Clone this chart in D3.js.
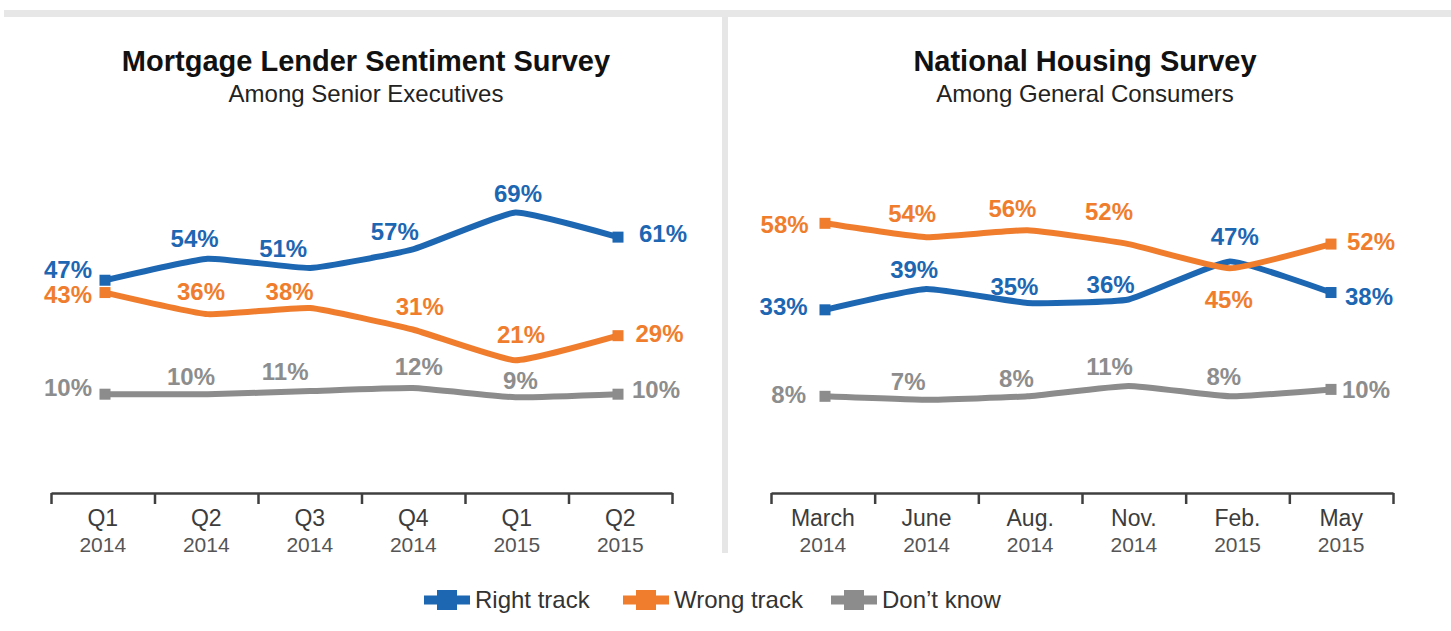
<!DOCTYPE html>
<html>
<head>
<meta charset="utf-8">
<script src="https://cdn.jsdelivr.net/npm/d3@7"></script>
<style>
  body { margin: 0; background: #fff; }
  svg { display: block; font-family: "Liberation Sans", Arial, Helvetica, sans-serif; }
</style>
</head>
<body>
<svg id="chart" width="1451" height="631"></svg>
<script>
// ---- data ----
const seriesNames = ["Right track", "Wrong track", "Don\u2019t know"];

const lenderPeriods = ["Q1", "Q2", "Q3", "Q4", "Q1", "Q2"];
const lenderYears = ["2014", "2014", "2014", "2014", "2015", "2015"];
const lenderRight = [47, 54, 51, 57, 69, 61];
const lenderWrong = [43, 36, 38, 31, 21, 29];
const lenderDontKnow = [10, 10, 11, 12, 9, 10];

const housingPeriods = ["March", "June", "Aug.", "Nov.", "Feb.", "May"];
const housingYears = ["2014", "2014", "2014", "2014", "2015", "2015"];
const housingRight = [33, 39, 35, 36, 47, 38];
const housingWrong = [58, 54, 56, 52, 45, 52];
const housingDontKnow = [8, 7, 8, 11, 8, 10];

// ---- styling ----
const colors = ["#1d66b2", "#ef7d2d", "#8c8c8c"];
const labelColors = ["#1d66b2", "#ef7d2d", "#8d8d8d"];

// label nudges [dx, dy] from each point, per series (right, wrong, don't know)
const lenderNudges = [
  [[-13, -2], [-13, -12], [-27, -11], [-18, -9.5], [2.6, -10.5], [21, 5]],
  [[-13, 10.5], [-6.6, -14], [-20.6, -8], [7, -14.5], [5.6, -17], [17.5, 6]],
  [[-13, 2], [-16.6, -9], [-25, -11], [6, -13], [5, -8], [14, 4]]
];
const housingNudges = [
  [[-17.4, 5], [-12, -11], [-13, -8], [-18, -6], [5, -16], [14, 12.5]],
  [[-16.4, 10], [-14, -15.5], [-15, -13.5], [-19.6, -24], [-1, 40], [16, 6]],
  [[-19, 7], [-18, -10], [-11, -9.6], [-19, -11], [-6, -11], [11, 8.5]]
];

const svg = d3.select("#chart");
const W = 1451, H = 631;

svg.append("rect").attr("width", W).attr("height", H).attr("fill", "#fff");
// frame: top band and centre divider
svg.append("rect").attr("x", 4).attr("y", 10).attr("width", W - 4).attr("height", 7).attr("fill", "#e7e7e7");
svg.append("rect").attr("x", 722).attr("y", 17).attr("width", 6).attr("height", 536).attr("fill", "#e6e6e6");

const panels = [
  {
    title: "Mortgage Lender Sentiment Survey",
    subtitle: "Among Senior Executives",
    cx: 366,
    periods: lenderPeriods, years: lenderYears,
    series: [lenderRight, lenderWrong, lenderDontKnow],
    nudges: lenderNudges,
    axisRange: [51, 672],
    pointRange: [105, 618],
    yRange: [425, 117]
  },
  {
    title: "National Housing Survey",
    subtitle: "Among General Consumers",
    cx: 1085,
    periods: housingPeriods, years: housingYears,
    series: [housingRight, housingWrong, housingDontKnow],
    nudges: housingNudges,
    axisRange: [771, 1393],
    pointRange: [825, 1331],
    yRange: [424, 78]
  }
];

const axisY = 493;

panels.forEach(p => {
  const g = svg.append("g");

  g.append("text")
    .attr("x", p.cx).attr("y", 71)
    .attr("text-anchor", "middle")
    .attr("font-size", 29).attr("font-weight", "bold").attr("fill", "#111")
    .text(p.title);
  g.append("text")
    .attr("x", p.cx).attr("y", 102)
    .attr("text-anchor", "middle")
    .attr("font-size", 24).attr("fill", "#222")
    .text(p.subtitle);

  const idx = d3.range(p.periods.length);
  const xBand = d3.scaleBand().domain(idx).range(p.axisRange);
  const xPt = d3.scalePoint().domain(idx).range(p.pointRange);
  const y = d3.scaleLinear().domain([0, 100]).range(p.yRange);

  // category axis: boundary ticks
  const xEdge = d3.scaleLinear().domain([0, idx.length]).range(p.axisRange);
  const edgeAxis = g.append("g")
    .attr("transform", `translate(0,${axisY})`)
    .call(d3.axisBottom(xEdge).tickValues(d3.range(idx.length + 1)).tickSize(11).tickSizeOuter(0).tickFormat(""));
  edgeAxis.select(".domain").attr("stroke", "#3f3f3f").attr("stroke-width", 2.5);
  edgeAxis.selectAll(".tick line").attr("stroke", "#3f3f3f").attr("stroke-width", 2.5);

  // category labels, two lines each
  const labelAxis = g.append("g")
    .attr("transform", `translate(0,${axisY})`)
    .call(d3.axisBottom(xBand).tickSize(0).tickFormat(""));
  labelAxis.select(".domain").remove();
  labelAxis.selectAll(".tick").each(function (d) {
    const t = d3.select(this);
    t.append("text").attr("y", 33).attr("text-anchor", "middle")
      .attr("font-size", 23).attr("fill", "#3c3c3c").text(p.periods[d]);
    t.append("text").attr("y", 59).attr("text-anchor", "middle")
      .attr("font-size", 21).attr("fill", "#555").text(p.years[d]);
  });

  const line = d3.line()
    .x((d, i) => xPt(i))
    .y(d => y(d))
    .curve(d3.curveCardinal.tension(0.6));

  p.series.forEach((vals, s) => {
    g.append("path")
      .datum(vals)
      .attr("d", line)
      .attr("fill", "none")
      .attr("stroke", colors[s])
      .attr("stroke-width", 6)
      .attr("stroke-linejoin", "round");
    // end markers
    [0, vals.length - 1].forEach(i => {
      g.append("rect")
        .attr("x", xPt(i) - 5.5).attr("y", y(vals[i]) - 5.5)
        .attr("width", 11).attr("height", 11)
        .attr("fill", colors[s]);
    });
  });

  p.series.forEach((vals, s) => {
    g.selectAll(null)
      .data(vals)
      .join("text")
      .attr("x", (d, i) => xPt(i) + p.nudges[s][i][0])
      .attr("y", (d, i) => y(d) + p.nudges[s][i][1])
      .attr("text-anchor", (d, i) => i === 0 ? "end" : (i === vals.length - 1 ? "start" : "middle"))
      .attr("font-size", 24)
      .attr("font-weight", "bold")
      .attr("fill", labelColors[s])
      .text(d => d + "%");
  });
});

// ---- legend ----
const legendItems = [
  { x: 424 },
  { x: 623 },
  { x: 831 }
];
const legend = svg.append("g").attr("transform", "translate(0,600)");
seriesNames.forEach((name, s) => {
  const lg = legend.append("g").attr("transform", `translate(${legendItems[s].x},0)`);
  lg.append("rect").attr("x", 0).attr("y", -4.5).attr("width", 46).attr("height", 9).attr("fill", colors[s]);
  lg.append("rect").attr("x", 13).attr("y", -10).attr("width", 20).attr("height", 20).attr("fill", colors[s]);
  lg.append("text").attr("x", 51).attr("y", 8)
    .attr("font-size", 24).attr("fill", "#333").text(name);
});
</script>
</body>
</html>
